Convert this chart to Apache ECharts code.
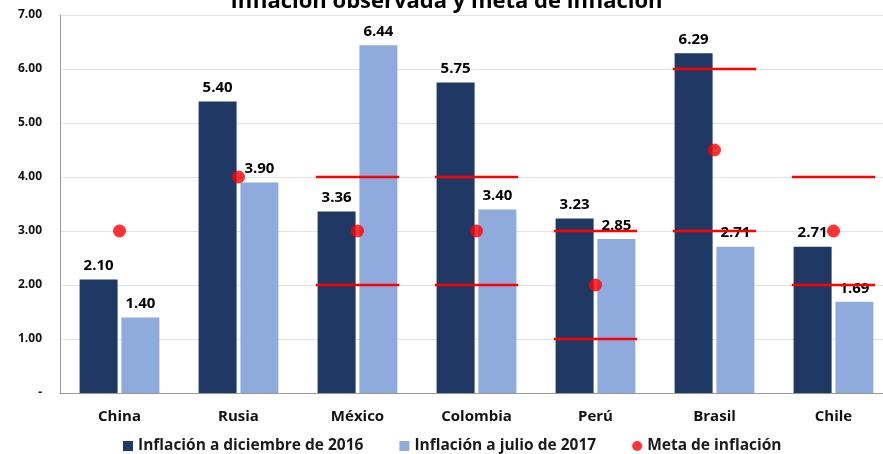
<!DOCTYPE html>
<html>
<head>
<meta charset="utf-8">
<script src="https://cdn.jsdelivr.net/npm/echarts@6/dist/echarts.min.js"></script>
<style>
  html, body { margin: 0; padding: 0; background: #fff; overflow: hidden; }
  #chart { width: 893px; height: 454px; }
</style>
</head>
<body>
<div id="chart"></div>
<script>
const countries = ['China', 'Rusia', 'México', 'Colombia', 'Perú', 'Brasil', 'Chile'];
const inflDic2016 = [2.10, 5.40, 3.36, 5.75, 3.23, 6.29, 2.71];
const inflJul2017 = [1.40, 3.90, 6.44, 3.40, 2.85, 2.71, 1.69];
const metaInflacion = [3, 4, 3, 3, 2, 4.5, 3];
// tolerance band around the target (null where no band applies)
const rangoInferior = [null, null, 2, 2, 1, 3, 2];
const rangoSuperior = [null, null, 4, 4, 3, 6, 4];
const yTicks = [0, 1, 2, 3, 4, 5, 6, 7];

const fontFam = '"Open Sans", "Noto Sans", sans-serif';

function bandLine(values) {
  return values.map((v, i) => v == null ? null : [i, v]).filter(d => d);
}

function renderBand(params, api) {
  const c = api.coord([api.value(0), api.value(1)]);
  const w = api.size([1, 0])[0] * 0.70;
  return {
    type: 'line',
    shape: { x1: c[0] - w / 2, y1: c[1], x2: c[0] + w / 2, y2: c[1] },
    style: { stroke: '#FF0000', lineWidth: 2.5 }
  };
}

const chart = echarts.init(document.getElementById('chart'));
chart.setOption({
  animation: false,
  title: {
    text: 'Inflación observada y meta de inflación',
    left: 'center',
    top: -14,
    textStyle: { fontFamily: fontFam, fontWeight: 'bold', fontSize: 22, color: '#000' }
  },
  grid: { left: 60, right: 0, top: 15, bottom: 61 },
  legend: {
    bottom: -5,
    left: 118,
    itemWidth: 10,
    itemHeight: 10,
    itemGap: 36,
    textStyle: { fontFamily: fontFam, fontWeight: 'bold', fontSize: 15.5, color: '#1a1a1a' },
    data: [
      { name: 'Inflación a diciembre de 2016', icon: 'rect' },
      { name: 'Inflación a julio de 2017', icon: 'rect' },
      { name: 'Meta de inflación', icon: 'circle' }
    ]
  },
  xAxis: {
    type: 'category',
    data: countries,
    axisLine: { lineStyle: { color: '#999' } },
    axisTick: { show: false },
    axisLabel: { fontFamily: fontFam, fontWeight: 'bold', fontSize: 15, color: '#111', margin: 16 }
  },
  yAxis: {
    type: 'value',
    min: yTicks[0],
    max: yTicks[yTicks.length - 1],
    interval: 1,
    axisLine: { show: true, lineStyle: { color: '#999' } },
    splitLine: { lineStyle: { color: '#e3e3e3' } },
    axisLabel: {
      fontFamily: fontFam, fontWeight: 'bold', fontSize: 12, color: '#111', margin: 18,
      formatter: v => v === 0 ? '-' : v.toFixed(2)
    }
  },
  series: [
    {
      name: 'Inflación a diciembre de 2016',
      type: 'bar',
      data: inflDic2016,
      barWidth: 38,
      barGap: '10%',
      itemStyle: { color: '#203864' },
      label: {
        show: true, position: 'top', distance: 6,
        fontFamily: fontFam, fontWeight: 'bold', fontSize: 15, color: '#000',
        formatter: p => p.value.toFixed(2)
      },
      z: 2
    },
    {
      name: 'Inflación a julio de 2017',
      type: 'bar',
      data: inflJul2017,
      barWidth: 38,
      itemStyle: { color: '#8FAADC' },
      label: {
        show: true, position: 'top', distance: 6,
        fontFamily: fontFam, fontWeight: 'bold', fontSize: 15, color: '#000',
        formatter: p => p.value.toFixed(2)
      },
      z: 2
    },
    {
      name: 'Rango superior',
      type: 'custom',
      data: bandLine(rangoSuperior),
      renderItem: renderBand,
      z: 3
    },
    {
      name: 'Rango inferior',
      type: 'custom',
      data: bandLine(rangoInferior),
      renderItem: renderBand,
      z: 3
    },
    {
      name: 'Meta de inflación',
      type: 'scatter',
      data: metaInflacion,
      symbol: 'circle',
      symbolSize: 13,
      itemStyle: { color: '#FF0000' },
      z: 4
    }
  ]
});
</script>
</body>
</html>
